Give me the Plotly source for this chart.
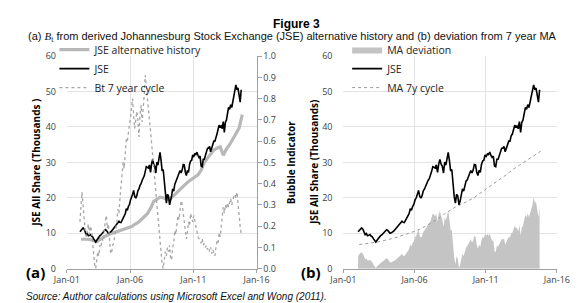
import pandas as pd
import plotly.graph_objects as go

# ---------------- data ----------------
month_start = "2002-01-01"
n_months = 154          # Jan 2002 .. Oct 2014
quarter_start = "2002-01-01"
n_quarters = 52         # 2002Q1 .. 2014Q4

jse = [
    10.4, 10.9, 11.3, 11.5, 11.2, 10.4, 9.6, 9.9, 9.3, 9.4, 9.6, 9.2,
    9.0, 8.4, 7.9, 7.5, 8.0, 8.5, 8.8, 9.3, 9.5, 9.9, 10.3, 10.6,
    11.0, 10.8, 10.5, 10.0, 10.1, 10.3, 10.6, 11.0, 11.4, 11.8, 12.3, 12.7,
    12.9, 13.4, 13.1, 13.0, 13.6, 14.3, 15.0, 15.5, 16.9, 16.5, 17.6, 18.1,
    19.4, 20.0, 21.0, 22.1, 20.4, 19.9, 20.6, 22.0, 22.5, 23.5, 24.0, 24.9,
    25.4, 26.2, 27.4, 28.8, 28.6, 28.4, 29.3, 27.2, 29.6, 30.8, 29.5, 28.9,
    27.0, 30.1, 29.2, 31.2, 32.8, 30.5, 27.6, 28.0, 23.8, 20.4, 18.5, 21.0,
    20.5, 18.0, 19.0, 20.6, 22.5, 21.9, 23.8, 24.7, 25.1, 26.0, 26.9, 27.7,
    27.0, 27.9, 29.4, 29.3, 27.3, 26.3, 27.7, 27.2, 29.4, 30.4, 30.6, 32.1,
    31.7, 32.4, 32.2, 32.9, 32.0, 31.4, 31.8, 29.0, 28.8, 30.9, 30.9, 31.9,
    33.0, 34.0, 34.0, 34.5, 33.0, 34.0, 35.0, 36.0, 36.0, 37.5, 38.0, 39.3,
    40.5, 40.0, 40.3, 39.5, 41.5, 38.5, 41.3, 42.0, 43.9, 45.5, 45.0, 46.3,
    45.5, 47.0, 48.5, 49.5, 51.9, 50.5, 51.0, 49.0, 47.0, 50.5,
]

bubble_7y = [
    0.22, 0.33, 0.36, 0.30, 0.22, 0.18, 0.15, 0.19, 0.21, 0.16, 0.20, 0.18,
    0.12, 0.06, 0.02, 0.00, 0.04, 0.08, 0.06, 0.11, 0.10, 0.14, 0.13, 0.19,
    0.22, 0.25, 0.19, 0.21, 0.14, 0.08, 0.07, 0.11, 0.12, 0.15, 0.19, 0.22,
    0.28, 0.26, 0.33, 0.38, 0.44, 0.50, 0.47, 0.56, 0.61, 0.60, 0.65, 0.68,
    0.71, 0.75, 0.80, 0.72, 0.66, 0.70, 0.74, 0.70, 0.62, 0.72, 0.77, 0.69,
    0.75, 0.82, 0.91, 0.85, 0.78, 0.72, 0.70, 0.65, 0.60, 0.55, 0.50, 0.42,
    0.36, 0.30, 0.22, 0.16, 0.12, 0.06, 0.02, 0.00, 0.05, 0.08, 0.06, 0.10,
    0.08, 0.11, 0.05, 0.04, 0.10, 0.12, 0.18, 0.16, 0.21, 0.25, 0.23, 0.28,
    0.32, 0.30, 0.26, 0.22, 0.18, 0.14, 0.17, 0.22, 0.20, 0.26, 0.24, 0.22,
    0.25, 0.22, 0.20, 0.17, 0.15, 0.14, 0.13, 0.12, 0.14, 0.11, 0.12, 0.10,
    0.11, 0.09, 0.10, 0.08, 0.10, 0.07, 0.09, 0.07, 0.06, 0.10, 0.13, 0.12,
    0.17, 0.15, 0.20, 0.24, 0.29, 0.26, 0.30, 0.28, 0.31, 0.29, 0.31, 0.33,
    0.30, 0.33, 0.34, 0.35, 0.33, 0.36, 0.30, 0.26, 0.20, 0.16,
]

ma_deviation = [
    3.6, 4.1, 4.4, 4.6, 4.3, 3.5, 2.6, 2.9, 2.3, 2.3, 2.5, 2.1,
    1.8, 1.1, 0.6, 0.2, 0.6, 1.0, 1.2, 1.6, 1.8, 2.1, 2.5, 2.7,
    3.0, 2.7, 2.3, 1.7, 1.8, 1.9, 2.0, 2.3, 2.6, 2.8, 3.2, 3.5,
    3.7, 4.1, 3.7, 3.5, 4.0, 4.6, 5.1, 5.5, 6.8, 6.3, 7.3, 7.7,
    8.8, 9.3, 10.2, 11.1, 9.3, 8.7, 9.2, 10.4, 10.8, 11.6, 11.9, 12.5,
    12.8, 13.4, 14.4, 15.6, 15.2, 14.8, 15.5, 13.2, 15.4, 16.3, 14.8, 14.0,
    11.7, 14.6, 13.5, 15.2, 16.4, 13.8, 10.8, 11.0, 6.8, 3.2, 1.2, 3.6,
    2.8, 0.2, 1.1, 2.4, 4.2, 3.6, 5.3, 6.0, 6.3, 7.0, 7.7, 8.3,
    7.3, 8.0, 9.3, 9.0, 6.8, 5.6, 6.8, 6.1, 8.1, 8.9, 8.6, 9.9,
    9.3, 9.8, 9.3, 9.8, 8.7, 7.9, 8.0, 5.0, 4.6, 6.5, 6.2, 6.9,
    7.6, 8.4, 8.2, 8.5, 6.8, 7.5, 8.2, 9.0, 8.7, 9.9, 10.1, 11.2,
    12.1, 11.4, 11.5, 10.5, 12.3, 9.3, 11.6, 12.1, 13.8, 15.2, 14.5, 15.6,
    14.6, 15.9, 17.2, 18.0, 20.2, 18.6, 18.9, 16.7, 14.5, 17.5,
]

jse_alt_history = [
    8.3, 8.4, 8.3, 8.2,
    7.9, 7.6, 8.2, 8.8,
    9.3, 9.7, 10.0, 10.3,
    10.5, 10.8, 11.2, 11.6,
    11.9, 12.5, 13.0, 13.8,
    14.6, 15.5, 17.0, 19.0,
    19.6, 20.2, 20.0, 19.6,
    19.5, 20.4, 21.0, 22.2,
    23.0, 23.8, 24.6, 25.2,
    26.0, 26.5, 27.8, 30.0,
    31.2, 32.5, 33.5, 34.0,
    34.4, 32.0, 33.8, 35.0,
    36.5, 38.0, 39.7, 43.5,
]

ma_7y = [
    6.8, 6.9, 7.0, 7.1,
    7.3, 7.5, 7.7, 7.9,
    8.1, 8.4, 8.7, 9.0,
    9.3, 9.6, 10.0, 10.3,
    10.7, 11.1, 11.6, 12.2,
    12.8, 13.4, 14.0, 14.7,
    15.5, 16.2, 16.8, 17.4,
    17.8, 18.3, 18.8, 19.3,
    19.9, 20.6, 21.3, 22.0,
    22.6, 23.3, 24.1, 24.9,
    25.6, 26.3, 27.1, 27.9,
    28.6, 29.2, 29.9, 30.5,
    31.1, 31.8, 32.5, 33.2,
]

x_tick_vals = ["2001-01-01", "2006-01-01", "2011-01-01", "2016-01-01"]
x_tick_text = ["Jan-01", "Jan-06", "Jan-11", "Jan-16"]

months = pd.date_range(month_start, periods=n_months, freq="MS") + pd.Timedelta(days=14)
quarters = pd.date_range(quarter_start, periods=n_quarters, freq="QS") + pd.Timedelta(days=45)

# ---------------- figure ----------------
W, H = 580, 303
FONT = "Open Sans, Liberation Sans, Arial, sans-serif"
ARIAL = "Liberation Sans, Arial, sans-serif"
GRID = "#e3e3e3"
TICKC = "#404040"

fig = go.Figure()

# Panel (a)
fig.add_trace(go.Scatter(x=quarters, y=jse_alt_history, mode="lines",
                         name="JSE alternative history",
                         line=dict(color="#b8b8b8", width=3.2),
                         xaxis="x", yaxis="y", legend="legend"))
fig.add_trace(go.Scatter(x=months, y=jse, mode="lines", name="JSE",
                         line=dict(color="#000000", width=1.6),
                         xaxis="x", yaxis="y", legend="legend"))
fig.add_trace(go.Scatter(x=months, y=bubble_7y, mode="lines", name="Bt 7 year cycle",
                         line=dict(color="#a6a6a6", width=1.3, dash="dot"),
                         xaxis="x", yaxis="y2", legend="legend"))

# Panel (b)
fig.add_trace(go.Scatter(x=months, y=ma_deviation, mode="lines", name="MA deviation",
                         fill="tozeroy", fillcolor="#c4c4c4",
                         line=dict(color="#c4c4c4", width=0),
                         xaxis="x2", yaxis="y3", legend="legend2"))
fig.add_trace(go.Scatter(x=months, y=jse, mode="lines", name="JSE",
                         line=dict(color="#000000", width=1.6),
                         xaxis="x2", yaxis="y3", legend="legend2"))
fig.add_trace(go.Scatter(x=quarters, y=ma_7y, mode="lines", name="MA 7y cycle",
                         line=dict(color="#9a9a9a", width=1, dash="dot"),
                         xaxis="x2", yaxis="y3", legend="legend2"))

ydom = [1 - 265 / H, 1 - 43 / H]
xdom_a = [47 / W, 246 / W]
xdom_b = [337 / W, 561 / W]

xaxis_common = dict(
    type="date", range=["2001-01-01", "2016-01-01"],
    tickvals=x_tick_vals, ticktext=x_tick_text,
    tickfont=dict(family=FONT, size=9, color=TICKC),
    showgrid=True, gridcolor=GRID, gridwidth=1,
    showline=True, linecolor="#a0a0a0", linewidth=1,
    ticks="outside", ticklen=3, tickcolor="#a0a0a0",
    zeroline=False,
)
yaxis_common = dict(
    range=[0, 60], dtick=10, tick0=0,
    tickfont=dict(family=FONT, size=9, color=TICKC),
    showgrid=True, gridcolor=GRID, gridwidth=1,
    showline=False, zeroline=False,
    ticks="outside", ticklen=8, tickcolor="rgba(0,0,0,0)",
)

fig.update_layout(
    width=W, height=H,
    margin=dict(l=0, r=0, t=0, b=0),
    paper_bgcolor="white", plot_bgcolor="white",
    xaxis=dict(domain=xdom_a, anchor="y", **xaxis_common),
    yaxis=dict(domain=ydom, anchor="x", **yaxis_common),
    yaxis2=dict(domain=ydom, overlaying="y", side="right", anchor="x",
                range=[0, 1], dtick=0.1, tick0=0, tickformat=".1f",
                tickfont=dict(family=FONT, size=9, color=TICKC),
                showgrid=False, zeroline=False,
                showline=True, linecolor="#a0a0a0", linewidth=1,
                ticks="outside", ticklen=4, tickcolor="#a0a0a0"),
    xaxis2=dict(domain=xdom_b, anchor="y3", **xaxis_common),
    yaxis3=dict(domain=ydom, anchor="x2", **yaxis_common),
    legend=dict(x=34 / W, y=1 - 21 / H, xanchor="left", yanchor="top",
                bgcolor="rgba(255,255,255,0)", borderwidth=0,
                font=dict(family=FONT, size=10.5, color="#222222"),
                itemwidth=30, tracegroupgap=0, traceorder="normal"),
    legend2=dict(x=341 / W, y=1 - 21 / H, xanchor="left", yanchor="top",
                 bgcolor="rgba(255,255,255,0)", borderwidth=0,
                 font=dict(family=FONT, size=10.5, color="#222222"),
                 itemwidth=30, tracegroupgap=0, traceorder="normal"),
    showlegend=True,
)

def ann(text, x, y, size=10, bold=False, italic=False, angle=0,
        xanchor="center", yanchor="middle", family=FONT, color="#000000"):
    if bold:
        text = f"<b>{text}</b>"
    if italic:
        text = f"<i>{text}</i>"
    fig.add_annotation(text=text, x=x / W, y=1 - y / H, xref="paper", yref="paper",
                       showarrow=False, textangle=angle, xanchor=xanchor, yanchor=yanchor,
                       font=dict(family=family, size=size, color=color))

ann("Figure 3", 288, 9, size=12, bold=True, family=ARIAL)
ann("(a) <span style='font-family:Liberation Serif,serif'><i>B</i><sub>t</sub></span> from derived Johannesburg Stock Exchange (JSE) alternative history and (b) deviation from 7 year MA",
    284, 23, size=11, family=ARIAL, color="#111111")
ann("Source: Author calculations using Microsoft Excel and Wong (2011).", 2, 294,
    size=10, italic=True, xanchor="left", family=ARIAL, color="#111111")
ann("JSE All Share (Thousands )", 15, 154, size=10, bold=True, angle=-90)
ann("Bubble Indicator", 283, 154, size=10, bold=True, angle=-90)
ann("JSE All Share (Thousands)", 307, 154, size=10, bold=True, angle=-90)
ann("(a)", 14, 269, size=15, bold=True)
ann("(b)", 303, 269, size=15, bold=True)

fig.write_html("out.html")
